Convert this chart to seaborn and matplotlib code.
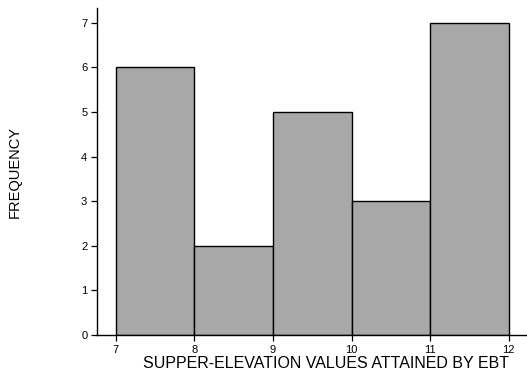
import matplotlib
matplotlib.use("Agg")
import matplotlib.pyplot as plt
import seaborn as sns
import numpy as np

# Histogram of super-elevation values: bin edges and their counts
bin_edges = [7, 8, 9, 10, 11, 12]
counts = [6, 2, 5, 3, 7]
y_ticks = [0, 1, 2, 3, 4, 5, 6, 7]
x_ticks = [7, 8, 9, 10, 11, 12]

sns.set_style("ticks")
plt.rcParams["font.family"] = ["Liberation Sans", "DejaVu Sans"]
plt.rcParams["text.color"] = "black"
plt.rcParams["axes.labelcolor"] = "black"
plt.rcParams["xtick.color"] = "black"
plt.rcParams["ytick.color"] = "black"

bin_mid = [(a + b) / 2 for a, b in zip(bin_edges[:-1], bin_edges[1:])]

fig = plt.figure(figsize=(5.27, 3.81), dpi=100)
ax = fig.add_axes([97 / 527, 1 - 335 / 381, (526 - 97) / 527, (335 - 8) / 381])

sns.histplot(x=bin_mid, weights=counts, bins=bin_edges, ax=ax,
             color="#a8a8a8", alpha=1.0, edgecolor="black", linewidth=1.0)

ax.set_xlim(6.76, 12.22)
ax.set_ylim(0, 7.33)
ax.set_xticks(x_ticks)
ax.set_yticks(y_ticks)
ax.tick_params(axis="both", labelsize=8, length=4, width=0.9, color="black", pad=3)
for s in ("top", "right"):
    ax.spines[s].set_visible(False)
for s in ("left", "bottom"):
    ax.spines[s].set_linewidth(1.0)
    ax.spines[s].set_color("black")

ax.set_xlabel("SUPPER-ELEVATION VALUES ATTAINED BY EBT", fontsize=11.5)
ax.xaxis.set_label_coords((326 - 97) / (526 - 97), -(356 - 335) / (335 - 8))
ax.set_ylabel("FREQUENCY", fontsize=10.5)
ax.yaxis.set_label_coords(-(97 - 22) / (526 - 97), 0.5)

fig.savefig("out.png", dpi=100)
